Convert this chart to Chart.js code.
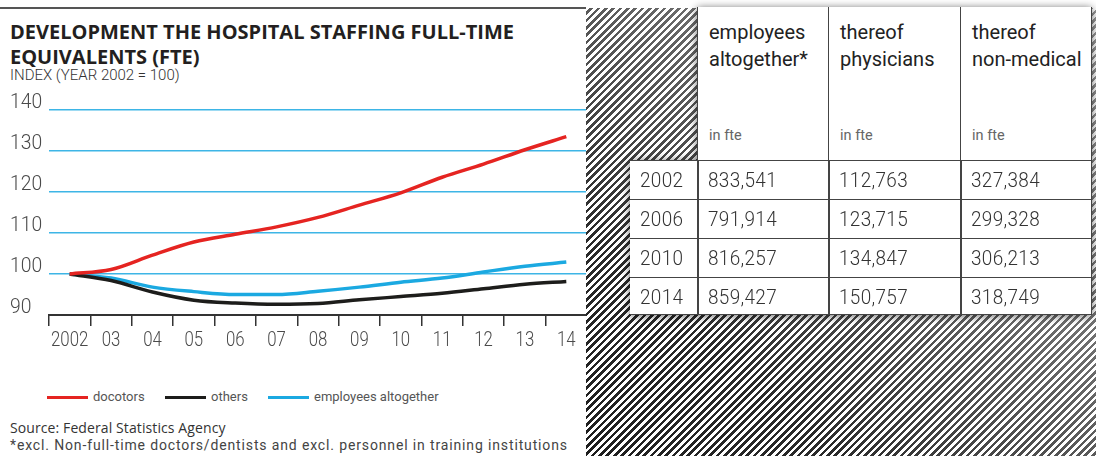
<!DOCTYPE html>
<html lang="en">
<head>
<meta charset="UTF-8">
<title>Hospital staffing FTE</title>
<script src="https://cdn.jsdelivr.net/npm/chart.js@4.4.0/dist/chart.umd.min.js"></script>
<style>
  html, body { margin: 0; padding: 0; background: #fff; }
  body { width: 1096px; height: 456px; position: relative; overflow: hidden; }
  #topline { position: absolute; left: 0; top: 7px; width: 586px; height: 2px; background: #555; }
  #title { position: absolute; left: 10px; top: 19px; font-family: 'Open Sans', sans-serif; font-weight: 700;
           font-size: 20px; line-height: 25px; color: #231f20; letter-spacing: 0; }
  #subtitle { position: absolute; left: 10px; top: 67px; font-family: Roboto, sans-serif; font-weight: 300;
              font-size: 15px; line-height: 16px; color: #333; }
  #chartBox { position: absolute; left: 0; top: 90px; width: 590px; height: 270px; }
  #legend { position: absolute; left: 47px; top: 389px; font-family: Roboto, sans-serif; font-size: 13px; color: #555; }
  #legend span.item { position: absolute; white-space: nowrap; }
  #legend span.swatch { display: inline-block; width: 41px; height: 3px; vertical-align: middle; margin-right: 5px; }
  #source { position: absolute; left: 10px; top: 418px; font-family: 'Open Sans', sans-serif; font-size: 14px; color: #333; letter-spacing: 0.1px; }
  #note { position: absolute; left: 10px; top: 437px; font-family: Roboto, sans-serif; font-size: 14px; color: #444; letter-spacing: 0.86px; }
  #hatch { position: absolute; left: 586px; top: 8px; width: 510px; height: 448px;
    background:
      linear-gradient(to top right, rgba(255,255,255,0) 0%, rgba(255,255,255,0.06) 25%, rgba(255,255,255,0.35) 60%, rgba(255,255,255,0.55) 100%),
      repeating-linear-gradient(135deg, #fff 0px, #fff 2.6px, #1e1e1e 2.6px, #1e1e1e 5.2px); }
  #tableWrap { position: absolute; left: 0; top: 0; width: 1096px; height: 456px; filter: drop-shadow(0 1px 4px rgba(0,0,0,0.6)); }
  #thead { position: absolute; left: 697px; top: 7px; width: 395px; height: 153px; background: #fff; }
  #tbody { position: absolute; left: 630px; top: 160px; width: 462px; height: 155px; background: #fff; }
  .hcell { position: absolute; top: 0; height: 153px; box-sizing: border-box; border-left: 1.5px solid #444;
           padding: 12px 0 0 11px; font-family: Roboto, sans-serif; font-size: 20px; line-height: 27px; color: #222; }
  .hcell .unit { position: absolute; left: 11px; top: 115px; font-size: 14.5px; color: #666; }
  .row { position: absolute; left: 0; width: 462px; box-sizing: border-box; border-top: 1.5px solid #444; }
  .cell { position: absolute; top: 0; bottom: 0; box-sizing: border-box; display: flex; align-items: center;
          font-family: Roboto, sans-serif; font-weight: 300; font-size: 21px; color: #333; }
  .cell span { display: inline-block; transform: scaleX(0.9); transform-origin: left center; letter-spacing: 0.4px; }
  .vline { position: absolute; width: 1.5px; background: #444; }
</style>
</head>
<body>

<div id="topline"></div>
<div id="title">DEVELOPMENT THE HOSPITAL STAFFING FULL-TIME<br>EQUIVALENTS (FTE)</div>
<div id="subtitle">INDEX (YEAR 2002 = 100)</div>
<div id="chartBox"><canvas id="chart"></canvas></div>
<div id="legend"></div>
<div id="source">Source: Federal Statistics Agency</div>
<div id="note">*excl. Non-full-time doctors/dentists and excl. personnel in training institutions</div>

<div id="hatch"></div>
<div id="tableWrap">
  <div id="thead"></div>
  <div id="tbody"></div>
</div>

<script>
  // chart data (index, 2002 = 100)
  const years = ['2002', '03', '04', '05', '06', '07', '08', '09', '10', '11', '12', '13', '14'];
  const doctors = [100, 101.1, 104.6, 107.8, 109.7, 111.5, 113.8, 116.8, 119.8, 123.6, 126.8, 130.3, 133.5];
  const others = [100, 98.4, 95.6, 93.6, 92.9, 92.6, 92.8, 93.7, 94.5, 95.3, 96.4, 97.5, 98.2];
  const employees = [100, 99.0, 96.8, 95.7, 95.0, 95.0, 95.8, 96.8, 98.0, 99.0, 100.5, 101.9, 102.9];
  const yTicks = [90, 100, 110, 120, 130, 140];

  const seriesNames = ['docotors', 'others', 'employees altogether'];
  const seriesColors = ['#e52421', '#1d1d1b', '#1ba9e1'];

  // table data
  const tableHeads = ['employees<br>altogether*', 'thereof<br>physicians', 'thereof<br>non-medical'];
  const tableUnit = 'in fte';
  const tableYears = ['2002', '2006', '2010', '2014'];
  const fteEmployees = ['833,541', '791,914', '816,257', '859,427'];
  const ftePhysicians = ['112,763', '123,715', '134,847', '150,757'];
  const fteNonMedical = ['327,384', '299,328', '306,213', '318,749'];

  const axisColor = '#4a4a4a';
  const axisFont = '300 21px Roboto, sans-serif';

  // the axis labels in the original are a condensed face; draw the tick labels squeezed
  const squeezedLabels = {
    id: 'squeezedLabels',
    afterDraw(chart) {
      const ctx = chart.ctx;
      const xs = chart.scales.x;
      const ys = chart.scales.y;
      ctx.save();
      ctx.fillStyle = axisColor;
      ctx.font = axisFont;
      ctx.textBaseline = 'middle';
      xs.ticks.forEach((t, i) => {
        ctx.save();
        ctx.translate(xs.getPixelForTick(i), xs.top + 26);
        ctx.scale(0.8, 1);
        ctx.textAlign = 'center';
        ctx.fillText(xs.getLabelForValue(t.value), 0, 0);
        ctx.restore();
      });
      ys.ticks.forEach(t => {
        ctx.save();
        ctx.translate(ys.left, ys.getPixelForValue(t.value) - 7);
        ctx.scale(0.92, 1);
        ctx.textAlign = 'left';
        ctx.fillText(String(t.value), 0, 0);
        ctx.restore();
      });
      ctx.restore();
    }
  };

  new Chart(document.getElementById('chart'), {
    type: 'line',
    data: {
      labels: years,
      datasets: [doctors, others, employees].map((d, i) => ({
        label: seriesNames[i],
        data: d,
        borderColor: seriesColors[i],
        borderWidth: 3.5,
        pointRadius: 0,
        cubicInterpolationMode: 'monotone',
        fill: false
      }))
    },
    options: {
      responsive: true,
      maintainAspectRatio: false,
      animation: false,
      layout: { padding: { left: 10, right: 3, top: 20, bottom: 6 } },
      plugins: { legend: { display: false }, tooltip: { enabled: false } },
      scales: {
        x: {
          offset: true,
          afterFit: s => { s.height = 39; },
          grid: { offset: true, drawOnChartArea: false, drawTicks: true, tickLength: 11, color: '#333', lineWidth: 1.5 },
          border: { display: true, color: '#333', width: 2 },
          ticks: { display: false, autoSkip: false }
        },
        y: {
          min: 90,
          max: 140,
          afterBuildTicks: s => { s.ticks = yTicks.map(v => ({ value: v })); },
          afterFit: s => { s.width = 39; },
          grid: {
            drawTicks: false,
            lineWidth: 1.5,
            color: ctx => ctx.tick && ctx.tick.value === 90 ? 'rgba(0,0,0,0)' : '#3db5e6'
          },
          border: { display: false },
          ticks: { display: false }
        }
      }
    },
    plugins: [squeezedLabels]
  });

  // legend
  const legend = document.getElementById('legend');
  const legendX = [0, 118, 221];
  seriesNames.forEach((name, i) => {
    const item = document.createElement('span');
    item.className = 'item';
    item.style.left = legendX[i] + 'px';
    item.innerHTML = '<span class="swatch" style="background:' + seriesColors[i] + '"></span>' + name;
    legend.appendChild(item);
  });

  // table
  const colLeft = [0, 131, 263];
  const colWidth = [131, 132, 132];
  const thead = document.getElementById('thead');
  tableHeads.forEach((h, i) => {
    const c = document.createElement('div');
    c.className = 'hcell';
    c.style.left = colLeft[i] + 'px';
    c.style.width = colWidth[i] + 'px';
    c.innerHTML = h + '<div class="unit">' + tableUnit + '</div>';
    thead.appendChild(c);
  });
  const hr = document.createElement('div');
  hr.className = 'vline';
  hr.style.left = '393.5px'; hr.style.top = '0'; hr.style.height = '153px';
  thead.appendChild(hr);

  const tbody = document.getElementById('tbody');
  const rowTop = [0, 39, 78, 117];
  const rowH = [39, 39, 39, 38];
  const cellLeft = [0, 67, 198, 330];
  const cellPad = [10, 11, 11, 11];
  tableYears.forEach((yr, r) => {
    const row = document.createElement('div');
    row.className = 'row';
    row.style.top = rowTop[r] + 'px';
    row.style.height = rowH[r] + 'px';
    [yr, fteEmployees[r], ftePhysicians[r], fteNonMedical[r]].forEach((v, c) => {
      const cell = document.createElement('div');
      cell.className = 'cell';
      cell.style.left = cellLeft[c] + 'px';
      cell.style.paddingLeft = cellPad[c] + 'px';
      const sp = document.createElement('span');
      sp.textContent = v;
      cell.appendChild(sp);
      row.appendChild(cell);
    });
    tbody.appendChild(row);
  });
  [67, 198, 330, 460.5].forEach(x => {
    const v = document.createElement('div');
    v.className = 'vline';
    v.style.left = x + 'px'; v.style.top = '0'; v.style.height = '155px';
    tbody.appendChild(v);
  });
  const bottom = document.createElement('div');
  bottom.style.cssText = 'position:absolute;left:0;top:153.5px;width:462px;height:1.5px;background:#444';
  tbody.appendChild(bottom);
</script>
</body>
</html>
